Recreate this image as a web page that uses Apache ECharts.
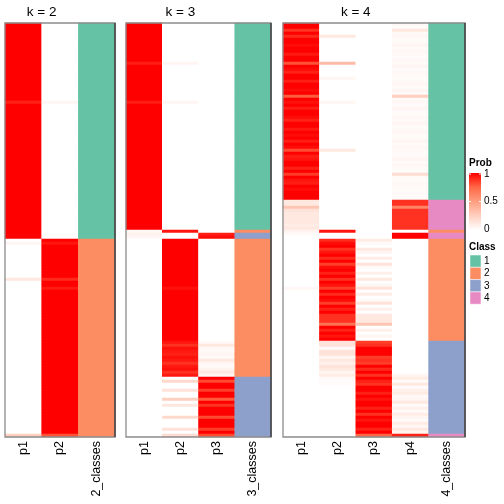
<!DOCTYPE html>
<html><head><meta charset="utf-8">
<script src="https://cdn.jsdelivr.net/npm/echarts@6/dist/echarts.min.js"></script>
<style>html,body{margin:0;padding:0;background:#fff}#c{width:504px;height:504px}</style>
</head><body><div id="c"></div>
<script>
// ---- data (run-length: number = one row, [value,count] = repeated rows) ----
const nRows = 138;
const panelTitles = ['k = 2', 'k = 3', 'k = 4'];
const k2_cols = ['p1', 'p2', '2_classes'];
const k3_cols = ['p1', 'p2', 'p3', '3_classes'];
const k4_cols = ['p1', 'p2', 'p3', 'p4', '4_classes'];

const k2_p1 = [[1,26],0.92,[1,45],0,0.05,[0,11],0.12,[0,51],0.25];
const k2_p2 = [[0,26],0.05,[0,45],1,0.95,[1,11],0.9,[1,2],0.94,[1,48],0.8];
const k2_cls = [[1,72],[2,66]];

const k3_p1 = [[1,13],0.93,[1,12],0.93,[1,42],0.04,0.07,0.04,[0,66]];
const k3_p2 = [[0,13],0.05,[0,12],0.05,[0,42],0.95,0,0,[1,16],0.96,[1,17],
  0.95,0.88,0.96,0.94,0.92,0.96,0.94,0.88,0.94,0.96,0.88,0.94,
  0,0.2,0,0,0.15,0,0,0.25,0,0.12,0,0,0,0.2,0,0,0,0.15,0,0.18];
const k3_p3 = [[0,70],0.93,0.97,[0,34],
  0.03,0.12,0.03,0.03,0.05,0.03,0.12,0.04,0.03,0.06,0.12,0.05,
  1,0.82,1,1,0.85,1,1,0.78,1,0.88,1,1,1,0.82,1,1,1,0.85,1,0.82];
const k3_cls = [[1,69],[2,1],[3,2],[2,46],[3,20]];

const k4_p1 = [1,1,0.88,1,0.9,1,1,0.97,1,1,0.94,1,1,0.8,1,0.97,0.92,1,1,0.93,1,1,0.97,1,0.78,1,0.96,1,0.93,1,
  1,0.97,0.92,1,1,0.94,1,0.97,1,0.93,1,0.97,0.82,1,0.93,0.95,1,1,0.92,1,0.86,1,0.95,0.93,1,0.97,1,1,1,
  0.12,0.12,0.3,0.15,0.12,0.12,0.12,0.12,0.1,0.12,
  0.06,0.02,0,[0,16],0.04,[0,49]];
const k4_p2 = [[0,4],0.12,[0,8],0.35,[0,4],0.05,[0,7],0.05,[0,15],0.12,[0,16],
  [0,10],0.95,[0,2],
  0.9,0.97,1,0.88,0.95,1,0.9,1,0.85,0.97,1,0.92,1,0.88,1,0.95,0.85,1,0.9,1,0.97,0.85,1,0.92,1,0.88,0.88,0.88,0.7,1,0.92,1,0.95,1,
  0.15,0.15,0.02,0.15,0.15,0.05,0.12,0.08,0.15,0.12,0.05,0.1,0.03,0.02,0.02,0,[0,16]];
const k4_p3 = [[0,72],
  0.1,0.03,0,0.12,0.05,0,0.1,0,0.15,0.03,0,0.08,0,0.12,0,0.05,0.15,0,0.1,0,0.03,0.15,0,0.08,0,0.12,0.12,0.12,0.3,0,0.08,0,0.05,0,
  0.85,0.88,1,1,1,0.85,0.88,0.85,1,0.9,1,0.88,1,0.92,0.88,1,1,0.92,1,0.95,1,1,0.92,1,0.88,1,0.95,1,1,0.92,1,
  0.75];
const k4_p4 = [0.03,0.02,0.12,0.03,0.04,0.02,0.03,0.05,0.02,0.04,
  0.03,0.02,0.04,0.03,0.05,0.02,0.04,0.03,0.02,0.03,
  0.04,0.02,0.05,0.03,0.25,0.03,0.04,0.02,0.05,0.03,
  0.02,0.04,0.03,0.05,0.02,0.03,0.04,0.02,0.03,0.05,
  0.02,0.04,0.03,0.02,0.03,0.05,0.02,0.04,0.03,0.02,
  0.18,0.03,0.02,0.04,0.03,0.02,0.03,0.02,0.03,
  0.88,0.88,0.62,0.88,0.88,0.88,0.88,0.88,0.88,0.88,
  0,1,1,[0,45],
  0.05,0.1,0.03,0.12,0.02,0.08,0.1,0.03,0.05,0.12,0.02,0.08,0.03,0.1,0.05,0.02,0.1,0.04,0.12,0.05,
  0.92];
const k4_cls = [[1,59],[4,10],[2,1],[4,2],[2,34],[3,31],[4,1]];

const classColors = ['#66C2A5', '#FC8D62', '#8DA0CB', '#E78AC3'];
const probStops = ['#FFFFFF', '#FFCFBF', '#FF9E81', '#FF6846', '#FF0000'];
const probTicks = ['1', '0.5', '0'];
const classLabels = ['1', '2', '3', '4'];

// ---- build ----
function expand(runs) {
  const out = [];
  runs.forEach(r => {
    if (Array.isArray(r)) { for (let i = 0; i < r[1]; i++) out.push(r[0]); }
    else out.push(r);
  });
  return out;
}
const panels = [
  { cols: k2_cols, probs: [k2_p1, k2_p2], cls: k2_cls },
  { cols: k3_cols, probs: [k3_p1, k3_p2, k3_p3], cls: k3_cls },
  { cols: k4_cols, probs: [k4_p1, k4_p2, k4_p3, k4_p4], cls: k4_cls }
];
const rowCats = [];
for (let i = 0; i < nRows; i++) rowCats.push(String(i));

const gridBoxes = [
  { left: 5, top: 23, width: 110, height: 414 },
  { left: 126, top: 23, width: 145, height: 414 },
  { left: 283, top: 23, width: 182, height: 414 }
];
const FONT = '"Liberation Sans", Arial, Helvetica, sans-serif';

const grids = [], xAxes = [], yAxes = [], series = [], graphics = [];
panels.forEach((p, g) => {
  grids.push(Object.assign({ containLabel: false }, gridBoxes[g]));
  xAxes.push({
    type: 'category', gridIndex: g, data: p.cols,
    axisLine: { show: false }, axisTick: { show: false }, splitLine: { show: false },
    axisLabel: { rotate: 90, fontSize: 12.5, color: '#000', margin: 4, fontFamily: FONT, interval: 0 }
  });
  yAxes.push({ type: 'category', gridIndex: g, data: rowCats, inverse: true, show: false });
  const pd = [];
  p.probs.forEach((col, j) => {
    expand(col).forEach((v, i) => pd.push([j, i, v]));
  });
  const cd = [];
  expand(p.cls).forEach((c, i) => cd.push([p.probs.length, i, c]));
  series.push({ type: 'heatmap', xAxisIndex: g, yAxisIndex: g, data: pd, itemStyle: { borderWidth: 0 }, emphasis: { disabled: true }, progressive: 0, animation: false });
  series.push({ type: 'heatmap', xAxisIndex: g, yAxisIndex: g, data: cd, itemStyle: { borderWidth: 0 }, emphasis: { disabled: true }, progressive: 0, animation: false });

  const b = gridBoxes[g];
  const colW = b.width / p.cols.length;
  graphics.push({
    type: 'text', z: 100,
    x: b.left + colW * p.probs.length / 2, y: 12,
    style: { text: panelTitles[g], fontSize: 13.5, fontFamily: FONT, fill: '#000', textAlign: 'center', textVerticalAlign: 'middle' }
  });
  graphics.push({
    type: 'rect', z: 100, silent: true,
    shape: { x: b.left, y: b.top, width: b.width, height: b.height },
    style: { fill: null, stroke: '#8c8c8c', lineWidth: 1.3 }
  });
  graphics.push({
    type: 'line', z: 101, silent: true,
    shape: { x1: b.left + b.width, y1: b.top, x2: b.left + b.width, y2: b.top + b.height },
    style: { stroke: '#333', lineWidth: 1.3 }
  });
});

// legend: Prob
const lx = 469, barTop = 173, barH = 57, barW = 12;
graphics.push({ type: 'text', x: lx, y: 163, style: { text: 'Prob', fontSize: 10, fontWeight: 'bold', fontFamily: FONT, fill: '#000', textVerticalAlign: 'middle' } });
graphics.push({
  type: 'rect', shape: { x: lx, y: barTop, width: barW, height: barH },
  style: { fill: new echarts.graphic.LinearGradient(0, 0, 0, 1, probStops.slice().reverse().map((c, i) => ({ offset: i / (probStops.length - 1), color: c }))) }
});
probTicks.forEach((t, i) => {
  const yy = barTop + 1 + i * (barH - 2) / 2;
  graphics.push({ type: 'text', x: lx + barW + 3, y: yy, style: { text: t, fontSize: 10, fontFamily: FONT, fill: '#000', textVerticalAlign: 'middle' } });
  if (i < 2) {
    graphics.push({ type: 'line', shape: { x1: lx, y1: yy, x2: lx + 2, y2: yy }, style: { stroke: '#fff', lineWidth: 1 } });
    graphics.push({ type: 'line', shape: { x1: lx + barW - 2, y1: yy, x2: lx + barW, y2: yy }, style: { stroke: '#fff', lineWidth: 1 } });
  }
});
// legend: Class
graphics.push({ type: 'text', x: lx, y: 247, style: { text: 'Class', fontSize: 10, fontWeight: 'bold', fontFamily: FONT, fill: '#000', textVerticalAlign: 'middle' } });
classLabels.forEach((t, i) => {
  const yy = 255 + i * 12.3;
  graphics.push({ type: 'rect', shape: { x: lx + 1, y: yy, width: 11, height: 12.3 }, style: { fill: classColors[i], stroke: '#fff', lineWidth: 0.5 } });
  graphics.push({ type: 'text', x: lx + barW + 3, y: yy + 6.2, style: { text: t, fontSize: 10, fontFamily: FONT, fill: '#000', textVerticalAlign: 'middle' } });
});

const chart = echarts.init(document.getElementById('c'), null, { renderer: 'canvas' });
chart.setOption({
  animation: false,
  backgroundColor: '#fff',
  grid: grids, xAxis: xAxes, yAxis: yAxes,
  visualMap: [
    { type: 'continuous', show: false, min: 0, max: 1, dimension: 2, seriesIndex: [0, 2, 4], inRange: { color: probStops } },
    { type: 'piecewise', show: false, dimension: 2, seriesIndex: [1, 3, 5],
      pieces: classColors.map((c, i) => ({ value: i + 1, color: c })) }
  ],
  series: series,
  graphic: graphics
});
</script></body></html>
